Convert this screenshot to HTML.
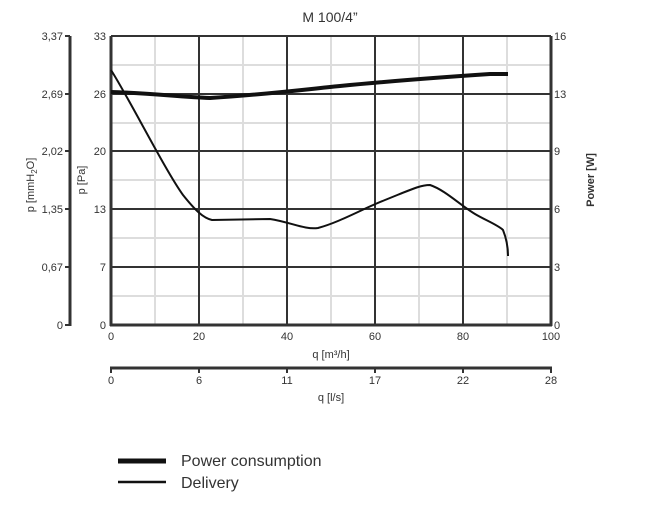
<!DOCTYPE html><html><head><style>body{margin:0;background:#fff}svg{font-family:"Liberation Sans",sans-serif}</style></head><body>
<svg width="653" height="518" viewBox="0 0 653 518">
<text x="330" y="22" font-size="14" text-anchor="middle" fill="#333">M 100/4”</text>
<g stroke="#ddd" stroke-width="2">
<line x1="155" y1="36" x2="155" y2="325"/><line x1="243" y1="36" x2="243" y2="325"/><line x1="331" y1="36" x2="331" y2="325"/><line x1="419" y1="36" x2="419" y2="325"/><line x1="507" y1="36" x2="507" y2="325"/>
<line x1="111" y1="65" x2="551" y2="65"/><line x1="111" y1="123" x2="551" y2="123"/><line x1="111" y1="180" x2="551" y2="180"/><line x1="111" y1="238" x2="551" y2="238"/><line x1="111" y1="296" x2="551" y2="296"/>
</g>
<g stroke="#333" stroke-width="2">
<line x1="199" y1="36" x2="199" y2="325"/><line x1="287" y1="36" x2="287" y2="325"/><line x1="375" y1="36" x2="375" y2="325"/><line x1="463" y1="36" x2="463" y2="325"/>
<line x1="111" y1="36" x2="551" y2="36"/><line x1="111" y1="94" x2="551" y2="94"/><line x1="111" y1="151" x2="551" y2="151"/><line x1="111" y1="209" x2="551" y2="209"/><line x1="111" y1="267" x2="551" y2="267"/>
</g>
<g stroke="#333" stroke-width="3"><line x1="111" y1="36" x2="111" y2="326"/><line x1="551" y1="36" x2="551" y2="326"/><line x1="110" y1="325" x2="552" y2="325"/><line x1="70" y1="36" x2="70" y2="326"/><line x1="110" y1="368" x2="552" y2="368"/></g>
<g stroke="#333" stroke-width="2"><line x1="65" y1="36" x2="70" y2="36"/><line x1="65" y1="94" x2="70" y2="94"/><line x1="65" y1="151" x2="70" y2="151"/><line x1="65" y1="209" x2="70" y2="209"/><line x1="65" y1="267" x2="70" y2="267"/><line x1="65" y1="325" x2="70" y2="325"/>
<line x1="111" y1="368" x2="111" y2="373"/><line x1="199" y1="368" x2="199" y2="373"/><line x1="287" y1="368" x2="287" y2="373"/><line x1="375" y1="368" x2="375" y2="373"/><line x1="463" y1="368" x2="463" y2="373"/><line x1="551" y1="368" x2="551" y2="373"/></g>
<g font-size="11" fill="#333" text-anchor="end">
<text x="63" y="40">3,37</text><text x="63" y="98">2,69</text><text x="63" y="155">2,02</text><text x="63" y="213">1,35</text><text x="63" y="271">0,67</text><text x="63" y="329">0</text>
<text x="106" y="40">33</text><text x="106" y="98">26</text><text x="106" y="155">20</text><text x="106" y="213">13</text><text x="106" y="271">7</text><text x="106" y="329">0</text>
</g>
<g font-size="11" fill="#333">
<text x="554" y="40">16</text><text x="554" y="98">13</text><text x="554" y="155">9</text><text x="554" y="213">6</text><text x="554" y="271">3</text><text x="554" y="329">0</text>
</g>
<g font-size="11" fill="#333" text-anchor="middle">
<text x="111" y="340">0</text><text x="199" y="340">20</text><text x="287" y="340">40</text><text x="375" y="340">60</text><text x="463" y="340">80</text><text x="551" y="340">100</text>
<text x="331" y="358">q [m³/h]</text>
<text x="111" y="384">0</text><text x="199" y="384">6</text><text x="287" y="384">11</text><text x="375" y="384">17</text><text x="463" y="384">22</text><text x="551" y="384">28</text>
<text x="331" y="401">q [l/s]</text>
</g>
<text transform="translate(34,185) rotate(-90)" font-size="11" fill="#333" text-anchor="middle">p [mmH<tspan font-size="8" dy="3">2</tspan><tspan dy="-3">O]</tspan></text>
<text transform="translate(85,180) rotate(-90)" font-size="11" fill="#333" text-anchor="middle">p [Pa]</text>
<text transform="translate(594,180) rotate(-90)" font-size="11" fill="#333" text-anchor="middle" font-weight="bold">Power [W]</text>
<path d="M111,92 C150,93 180,97 210,98 C260,95 300,90 340,86 C400,80 460,76 490,74 L508,74" fill="none" stroke="#111" stroke-width="4"/>
<path d="M111,70 C130,100 165,170 183,195 C195,210 203,218 212,220 L270,219 C290,222 305,230 318,228 C340,222 360,210 385,200 C410,190 420,185 430,185 C445,190 460,205 475,214 C485,220 498,225 503,230 C507,240 508,248 508,256" fill="none" stroke="#111" stroke-width="2"/>
<line x1="118" y1="461" x2="166" y2="461" stroke="#111" stroke-width="5"/>
<line x1="118" y1="482" x2="166" y2="482" stroke="#111" stroke-width="2.5"/>
<text x="181" y="466" font-size="16" fill="#333">Power consumption</text>
<text x="181" y="488" font-size="16" fill="#333">Delivery</text>
</svg></body></html>
